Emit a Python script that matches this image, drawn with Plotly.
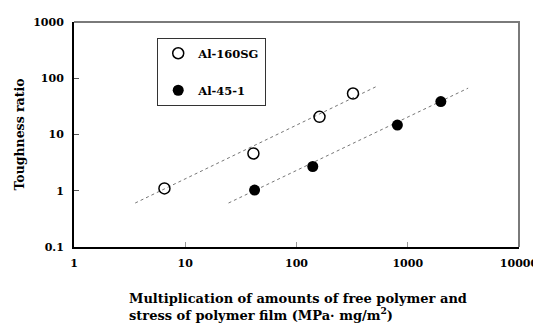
import plotly.graph_objects as go

# Measured points
sg_x = [6.5, 41, 161, 322]
sg_y = [1.1, 4.6, 20.6, 53.5]
al_x = [42, 140, 807, 1983]
al_y = [1.03, 2.7, 14.7, 38.5]

# Power-law trend line endpoints
sg_fit_x = [3.55, 515]
sg_fit_y = [0.605, 70.3]
al_fit_x = [24.5, 3490]
al_fit_y = [0.605, 66.7]

x_ticks = [1, 10, 100, 1000, 10000]
x_labels = ["1", "10", "100", "1000", "10000"]
y_ticks = [0.1, 1, 10, 100, 1000]
y_labels = ["0.1", "1", "10", "100", "1000"]

serif = "DejaVu Serif"

fig = go.Figure()

for fx, fy in [(sg_fit_x, sg_fit_y), (al_fit_x, al_fit_y)]:
    fig.add_trace(go.Scatter(x=fx, y=fy, mode="lines", showlegend=False,
                             line=dict(color="#666666", width=0.9, dash="dot"),
                             hoverinfo="skip"))

fig.add_trace(go.Scatter(x=sg_x, y=sg_y, mode="markers", name="<b>Al-160SG</b>",
                         legendgroup="a",
                         marker=dict(symbol="circle-open", size=11, color="black",
                                     line=dict(width=1.5, color="black"))))
fig.add_trace(go.Scatter(x=al_x, y=al_y, mode="markers", name="<b>Al-45-1</b>",
                         legendgroup="b",
                         marker=dict(symbol="circle", size=11, color="black")))

fig.update_layout(
    width=533, height=325,
    margin=dict(l=74, r=14, t=22, b=78, autoexpand=False),
    paper_bgcolor="white", plot_bgcolor="white",
    font=dict(family=serif, size=11, color="black"),
    legend=dict(x=0.187, y=0.93, xanchor="left", yanchor="top",
                bordercolor="#333333", borderwidth=1, bgcolor="white",
                tracegroupgap=18, traceorder="grouped", itemwidth=30,
                font=dict(family=serif, size=11.5, color="black")),
    xaxis=dict(type="log", range=[0, 4], tickvals=x_ticks, ticktext=[f"<b>{t}</b>" for t in x_labels],
               ticks="inside", ticklen=5, tickcolor="#999999", showgrid=False,
               showline=True, linecolor="black", linewidth=2,
               ticklabeloverflow="allow", ticklabelstandoff=5, automargin=False,
               tickfont=dict(family=serif, size=11), zeroline=False),
    yaxis=dict(type="log", range=[-1, 3], tickvals=y_ticks, ticktext=[f"<b>{t}</b>" for t in y_labels],
               ticks="inside", ticklen=5, tickcolor="#555555", showgrid=False,
               showline=True, linecolor="black", linewidth=2,
               ticklabelstandoff=6, automargin=False,
               tickfont=dict(family=serif, size=11), zeroline=False,
               title=dict(text="<b>Toughness ratio</b>", font=dict(family=serif, size=12.5), standoff=6)),
)

# Grey top and right edges of the plotting frame
fig.add_shape(type="path", xref="paper", yref="paper",
              path="M 0 1 L 1 1 L 1 0",
              line=dict(color="#7a7a7a", width=2), layer="above")

fig.add_annotation(xref="paper", yref="paper", x=0.12, y=-0.185, xanchor="left", yanchor="top",
                   align="left", showarrow=False,
                   text="<b>Multiplication of amounts of free polymer and<br>stress of polymer film (MPa· mg/m<sup>2</sup>)</b>",
                   font=dict(family=serif, size=13, color="black"))

fig.write_html("out.html")
